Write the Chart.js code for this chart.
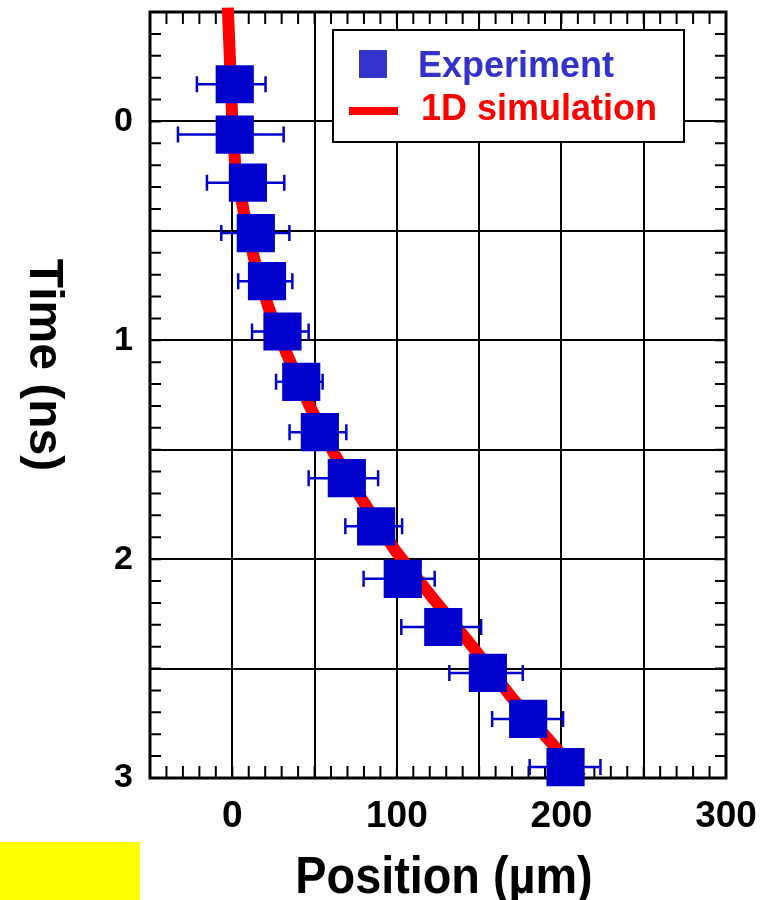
<!DOCTYPE html>
<html>
<head>
<meta charset="utf-8">
<script src="https://cdn.jsdelivr.net/npm/chart.js@4.4.1/dist/chart.umd.min.js"></script>
<style>
  html, body { margin: 0; padding: 0; background: #fff; }
  #wrap { position: relative; width: 779px; height: 900px; }
  #mark { position: absolute; left: 0; top: 842px; width: 140px; height: 58px; background: #ffff00; }
</style>
</head>
<body>
<div id="wrap">
  <canvas id="graph" width="779" height="900"></canvas>
  <div id="mark"></div>
</div>
<script>
// experiment: time (ns) and position (um), with horizontal error range
const expTime = [-0.17, 0.06, 0.28, 0.51, 0.73, 0.96, 1.19, 1.42, 1.63, 1.85, 2.09, 2.31, 2.52, 2.73, 2.95];
const expPos  = [1.5, 1.5, 9.5, 14.3, 21.1, 30.5, 41.9, 53.2, 69.6, 87.4, 103.6, 128.2, 155.3, 179.8, 202.5];
const expLow  = [-21.5, -33, -15.4, -6.7, 3.6, 12, 26.6, 34.8, 46.4, 68.7, 79.8, 102.7, 131.9, 157.9, 180.7];
const expHigh = [20.2, 31.2, 31.6, 34.7, 36.5, 46.4, 54.9, 69.3, 88.6, 103.2, 123, 151.2, 176.5, 201, 223.7];

// 1D simulation curve
const simTime = [-0.52, -0.2, 0.0, 0.2, 0.41, 0.62, 0.85, 1.06, 1.30, 1.52, 1.73, 1.96, 2.17, 2.40, 2.63, 2.84, 3.0];
const simPos  = [-2.7, -1, 0, 1.8, 6.9, 13, 22, 33, 47, 62, 79, 99, 121, 146, 169.5, 194, 212];

const xLabels = [0, 100, 200, 300];
const yLabels = [0, 1, 2, 3];

const FONT = '"Liberation Sans", Arial, sans-serif';

// frame, inward minor ticks and error bars
const decor = {
  id: 'decor',
  beforeDatasetsDraw(chart) {
    const { ctx, chartArea: a, scales: { x, y } } = chart;
    ctx.save();
    ctx.strokeStyle = '#000';
    ctx.lineWidth = 2;
    ctx.beginPath();
    for (let v = -50; v <= 300; v += 10) {
      const px = x.getPixelForValue(v);
      ctx.moveTo(px, a.top); ctx.lineTo(px, a.top + 12);
      ctx.moveTo(px, a.bottom); ctx.lineTo(px, a.bottom - 12);
    }
    for (let i = -5; i <= 30; i++) {
      const py = y.getPixelForValue(i / 10);
      ctx.moveTo(a.left, py); ctx.lineTo(a.left + 11, py);
      ctx.moveTo(a.right, py); ctx.lineTo(a.right - 11, py);
    }
    ctx.stroke();
    ctx.lineWidth = 3;
    ctx.strokeRect(a.left, a.top, a.right - a.left, a.bottom - a.top);
    ctx.restore();
  },
  beforeDatasetDraw(chart, args) {
    if (args.index !== 0) return;
    const { ctx, scales: { x, y } } = chart;
    ctx.save();
    ctx.strokeStyle = '#0000cc';
    ctx.lineWidth = 2.5;
    ctx.beginPath();
    expTime.forEach((t, i) => {
      const py = y.getPixelForValue(t);
      const x1 = x.getPixelForValue(expLow[i]);
      const x2 = x.getPixelForValue(expHigh[i]);
      ctx.moveTo(x1, py); ctx.lineTo(x2, py);
      ctx.moveTo(x1, py - 8); ctx.lineTo(x1, py + 8);
      ctx.moveTo(x2, py - 8); ctx.lineTo(x2, py + 8);
    });
    ctx.stroke();
    ctx.restore();
  },
  afterDraw(chart) {
    const { ctx } = chart;
    ctx.save();
    // axis titles
    ctx.fillStyle = '#000';
    ctx.font = 'bold 48px ' + FONT;
    ctx.textAlign = 'center';
    ctx.textBaseline = 'alphabetic';
    ctx.translate(30, 365);
    ctx.rotate(Math.PI / 2);
    ctx.fillText('Time (ns)', 0, 0);
    ctx.setTransform(1, 0, 0, 1, 0, 0);
    ctx.translate(444, 893);
    ctx.scale(0.9, 1);
    ctx.font = 'bold 52px ' + FONT;
    ctx.fillText('Position (\u00b5m)', 0, 0);
    ctx.setTransform(1, 0, 0, 1, 0, 0);
    // legend
    ctx.fillStyle = '#fff';
    ctx.fillRect(333, 30, 351, 112);
    ctx.strokeStyle = '#000';
    ctx.lineWidth = 2;
    ctx.strokeRect(333, 30, 351, 112);
    ctx.fillStyle = '#3333cc';
    ctx.fillRect(359, 50, 28, 28);
    ctx.fillStyle = '#ff0000';
    ctx.fillRect(349, 107, 49, 8);
    ctx.font = 'bold 36px ' + FONT;
    ctx.textAlign = 'left';
    ctx.fillStyle = '#3333cc';
    ctx.fillText(chart.data.datasets[0].label, 418, 77);
    ctx.fillStyle = '#ff0000';
    ctx.fillText(chart.data.datasets[1].label, 421, 120);
    ctx.restore();
  }
};

new Chart(document.getElementById('graph'), {
  type: 'scatter',
  data: {
    datasets: [
      {
        label: 'Experiment',
        data: expTime.map((t, i) => ({ x: expPos[i], y: t })),
        pointStyle: 'rect',
        pointRadius: 27,
        backgroundColor: '#0000cc',
        borderWidth: 0,
        showLine: false,
        clip: false
      },
      {
        label: '1D simulation',
        data: simTime.map((t, i) => ({ x: simPos[i], y: t })),
        showLine: true,
        borderColor: '#ff0000',
        borderWidth: 12,
        pointRadius: 0,
        tension: 0,
        clip: false
      }
    ]
  },
  plugins: [decor],
  options: {
    responsive: false,
    animation: false,
    layout: { autoPadding: false, padding: { top: 12, right: 53, left: 0, bottom: 0 } },
    plugins: { legend: { display: false }, tooltip: { enabled: false } },
    scales: {
      x: {
        type: 'linear',
        min: -50,
        max: 300,
        afterFit(s) { s.height = 122; s.paddingLeft = 0; s.paddingRight = 0; },
        border: { display: false },
        grid: { color: '#000', lineWidth: 2, drawTicks: false },
        ticks: {
          stepSize: 50,
          autoSkip: false,
          maxRotation: 0,
          padding: 17,
          color: '#000',
          font: { family: FONT, size: 37, weight: 'bold' },
          callback: v => xLabels.includes(v) ? v : ''
        }
      },
      y: {
        type: 'linear',
        reverse: true,
        min: -0.5,
        max: 3,
        afterFit(s) { s.width = 150; s.paddingTop = 0; s.paddingBottom = 0; },
        border: { display: false },
        grid: { color: '#000', lineWidth: 2, drawTicks: false },
        ticks: {
          stepSize: 0.5,
          autoSkip: false,
          padding: 17,
          color: '#000',
          font: { family: FONT, size: 34, weight: 'bold' },
          callback: v => yLabels.includes(v) ? v : ''
        }
      }
    }
  }
});
</script>
</body>
</html>
